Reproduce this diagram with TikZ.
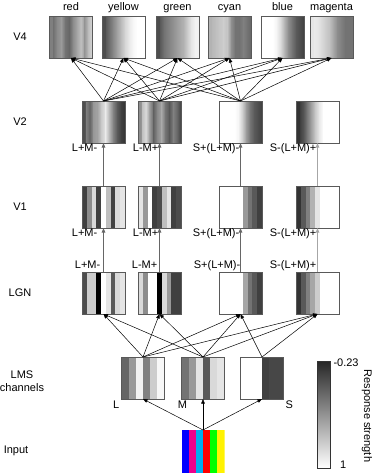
\documentclass[tikz,border=0pt]{standalone}
\usepackage{fontspec}
\setmainfont{Liberation Sans}
\usetikzlibrary{calc,arrows.meta}

% equal-width vertical stripes inside a node (#1 = fill, #2 = list)
\newcommand{\stripefill}[2]{%
  \foreach \g [count=\n] in {#2} {\xdef\nstripes{\n}}%
  \foreach \g [count=\i from 0] in {#2}
    \fill[#1] ($(path picture bounding box.south west)!{\i/\nstripes}!(path picture bounding box.south east)$)
      rectangle ($(path picture bounding box.north west)!{(\i+1.1)/\nstripes}!(path picture bounding box.north east)$);
}
% smooth version: grey levels blended between equally spaced samples
\newcommand{\blendfill}[1]{%
  \foreach \g [count=\n] in {#1} {\xdef\nstripes{\n}}%
  \foreach \g [count=\i from 0, remember=\g as \h (initially 0)] in {#1}{
    \ifnum\i>0
      \shade[left color=black!\h, right color=black!\g]
        ($(path picture bounding box.south west)!{(\i-1)/(\nstripes-1)}!(path picture bounding box.south east)$)
        rectangle ($(path picture bounding box.north west)!{(\i+0.05)/(\nstripes-1)}!(path picture bounding box.north east)$);
    \fi}
}

\tikzset{
  unit/.style={draw=black!65, line width=0.6pt, minimum width=43pt, minimum height=42pt, inner sep=0pt, outer sep=0pt},
  stripes/.style={path picture={\stripefill{black!\g}{#1}}},
  smooth/.style={path picture={\blendfill{#1}}},
  hues/.style={path picture={\stripefill{\g}{#1}}},
  link/.style={-{Triangle[length=4.5pt,width=3.5pt]}, line width=0.5pt},
  feed/.style={link, draw=black!60, line width=0.9pt},
  lbl/.style={inner sep=0pt},
}

\begin{document}
\begin{tikzpicture}[x=1pt, y=-1pt, font=\fontsize{11}{13}\selectfont]
  \useasboundingbox (0,0) rectangle (374,474);

  % Row titles
  \node (tv4) at (20,37) {V4};
  \node (tv2) at (20,122) {V2};
  \node (tv1) at (20,207) {V1};
  \node (tlgn) at (20,293) {LGN};
  \node[align=center] (tlms) at (22,381) {LMS\\channels};
  \node (tin) at (16,451) {Input};

  % V4 units
  \node[unit, smooth={50,55,45,40,55,60,45,35,25,40,25,15}] (v4red) at (71,37) {};
  \node[unit, smooth={70,65,55,45,35,25,15,8,3,0,0,0}] (v4yellow) at (123.5,37) {};
  \node[unit, smooth={70,65,55,50,45,40,35,30,20,10,5,5}] (v4green) at (177.5,37) {};
  \node[unit, smooth={30,28,25,22,20,25,45,55,55,50,55,60}] (v4cyan) at (229.5,37) {};
  \node[unit, smooth={0,0,0,0,5,15,30,45,55,65,70,75}] (v4blue) at (282.5,37) {};
  \node[unit, smooth={10,8,10,15,20,25,35,45,50,55,55,55}] (v4magenta) at (331.5,37) {};
  \foreach \c in {red,yellow,green,cyan,blue,magenta}
    \node[lbl, anchor=base] (n\c) at ($(v4\c.north)+(0,-5.5)$) {\c};

  % V2 units
  \node[unit, smooth={70,50,60,40,35,20,10,30,50,65,75,80}] (v2a) at (103.5,122) {};
  \node[unit, smooth={45,25,15,40,60,45,35,55,65,50,60,75}] (v2b) at (159.5,122) {};
  \node[unit, smooth={0,0,0,0,0,5,20,40,55,65,70,75}] (v2c) at (240.5,122) {};
  \node[unit, smooth={80,75,65,50,35,20,8,0,0,0,0,0}] (v2d) at (317.5,122) {};

  % V1 units
  \node[unit, stripes={75,45,15,75,0,25,75,15,10}] (v1a) at (103.5,207) {};
  \node[unit, stripes={10,40,0,75,70,25,10,75,70}] (v1b) at (159.5,207) {};
  \node[unit, stripes={0,0,0,0,0,40,55,65,75}] (v1c) at (240.5,207) {};
  \node[unit, stripes={80,65,50,30,10,0,0,0,0}] (v1d) at (317.5,207) {};

  % LGN units
  \node[unit, stripes={70,20,20,100,0,10,65,15,10}] (lgna) at (103.5,293) {};
  \node[unit, stripes={15,45,0,0,100,15,40,75,75}] (lgnb) at (159.5,293) {};
  \node[unit, stripes={0,0,0,0,0,35,55,65,75}] (lgnc) at (240.5,293) {};
  \node[unit, stripes={80,65,50,35,20,0,0,0,0}] (lgnd) at (317.5,293) {};

  % cone channels
  \node[unit, stripes={60,40,5,50,20,3}] (lmsL) at (143,378) {};
  \node[unit, stripes={55,40,10,65,15,10}] (lmsM) at (203,378) {};
  \node[unit, stripes={0,0,0,75,72,72}] (lmsS) at (262,378) {};
  \node[lbl, anchor=north east] (nL) at ($(lmsL.south west)+(-2,2)$) {L};
  \node[lbl, anchor=north] (nM) at ($(lmsM.south west)+(1,2)$) {M};
  \node[lbl, anchor=north west] (nS) at ($(lmsS.south east)+(2,2)$) {S};

  % stimulus
  \node[unit, draw=none, minimum height=43pt, hues={blue,magenta,cyan,red,green,yellow}] (inp) at (203,451.5) {};

  % feedforward links
  \foreach \t in {lmsL,lmsM,lmsS}
    \draw[link] (inp.north) -- (\t.south);
  \foreach \s/\t in {lmsL/lgna,lmsM/lgna,lmsL/lgnb,lmsM/lgnb,lmsL/lgnc,lmsM/lgnc,lmsS/lgnc,lmsL/lgnd,lmsM/lgnd,lmsS/lgnd}
    \draw[link] (\s.north) -- (\t.south);
  \foreach \s/\t in {lgna/v1a,lgnb/v1b,lgnc/v1c,v1a/v2a,v1b/v2b,v1c/v2c}
    \draw[feed] (\s.north) -- (\t.south);
  \draw[feed, draw=black!35] (lgnd.north) -- (v1d.south);
  \draw[feed, draw=black!35] (v1d.north) -- (v2d.south);
  \foreach \s in {v2a,v2b,v2c}
    \foreach \c in {red,yellow,green,cyan,blue,magenta}
      \draw[link] (\s.north) -- (v4\c.south);

  % opponent labels
  \foreach \r/\y in {v2/8,v1/8}{
    \node[lbl, anchor=base east] at ($(\r a.south)+(-6,\y)$) {L+M-};
    \node[lbl, anchor=base east] at ($(\r b.south)+(-1,\y)$) {L-M+};
    \node[lbl, anchor=base east] at ($(\r c.south)+(-1,\y)$) {S+(L+M)-};
    \node[lbl, anchor=base east] at ($(\r d.south)+(-1,\y)$) {S-(L+M)+};
  }
  \node[lbl, anchor=base east] (oa) at ($(lgna.north)+(-3,-4)$) {L+M-};
  \node[lbl, anchor=base east] (ob) at ($(lgnb.north)+(-2,-4)$) {L-M+};
  \node[lbl, anchor=base east] (oc) at ($(lgnc.north)+(0,-4)$) {S+(L+M)-};
  \node[lbl, anchor=base east] (od) at ($(lgnd.north)+(-1,-4)$) {S-(L+M)+};

  % colour bar
  \node[draw=black!80, line width=0.6pt, minimum width=13pt, minimum height=107pt, inner sep=0pt,
        top color=black!85, bottom color=white] (cbar) at (323.5,414.5) {};
  \node[lbl, anchor=west] (cmin) at ($(cbar.north east)+(3,2)$) {-0.23};
  \node[lbl] (cmax) at ($(cbar.south east)+(13,-4)$) {1};
  \node[lbl, rotate=-90] (ctitle) at (367,416) {Response strength};
\end{tikzpicture}
\end{document}
